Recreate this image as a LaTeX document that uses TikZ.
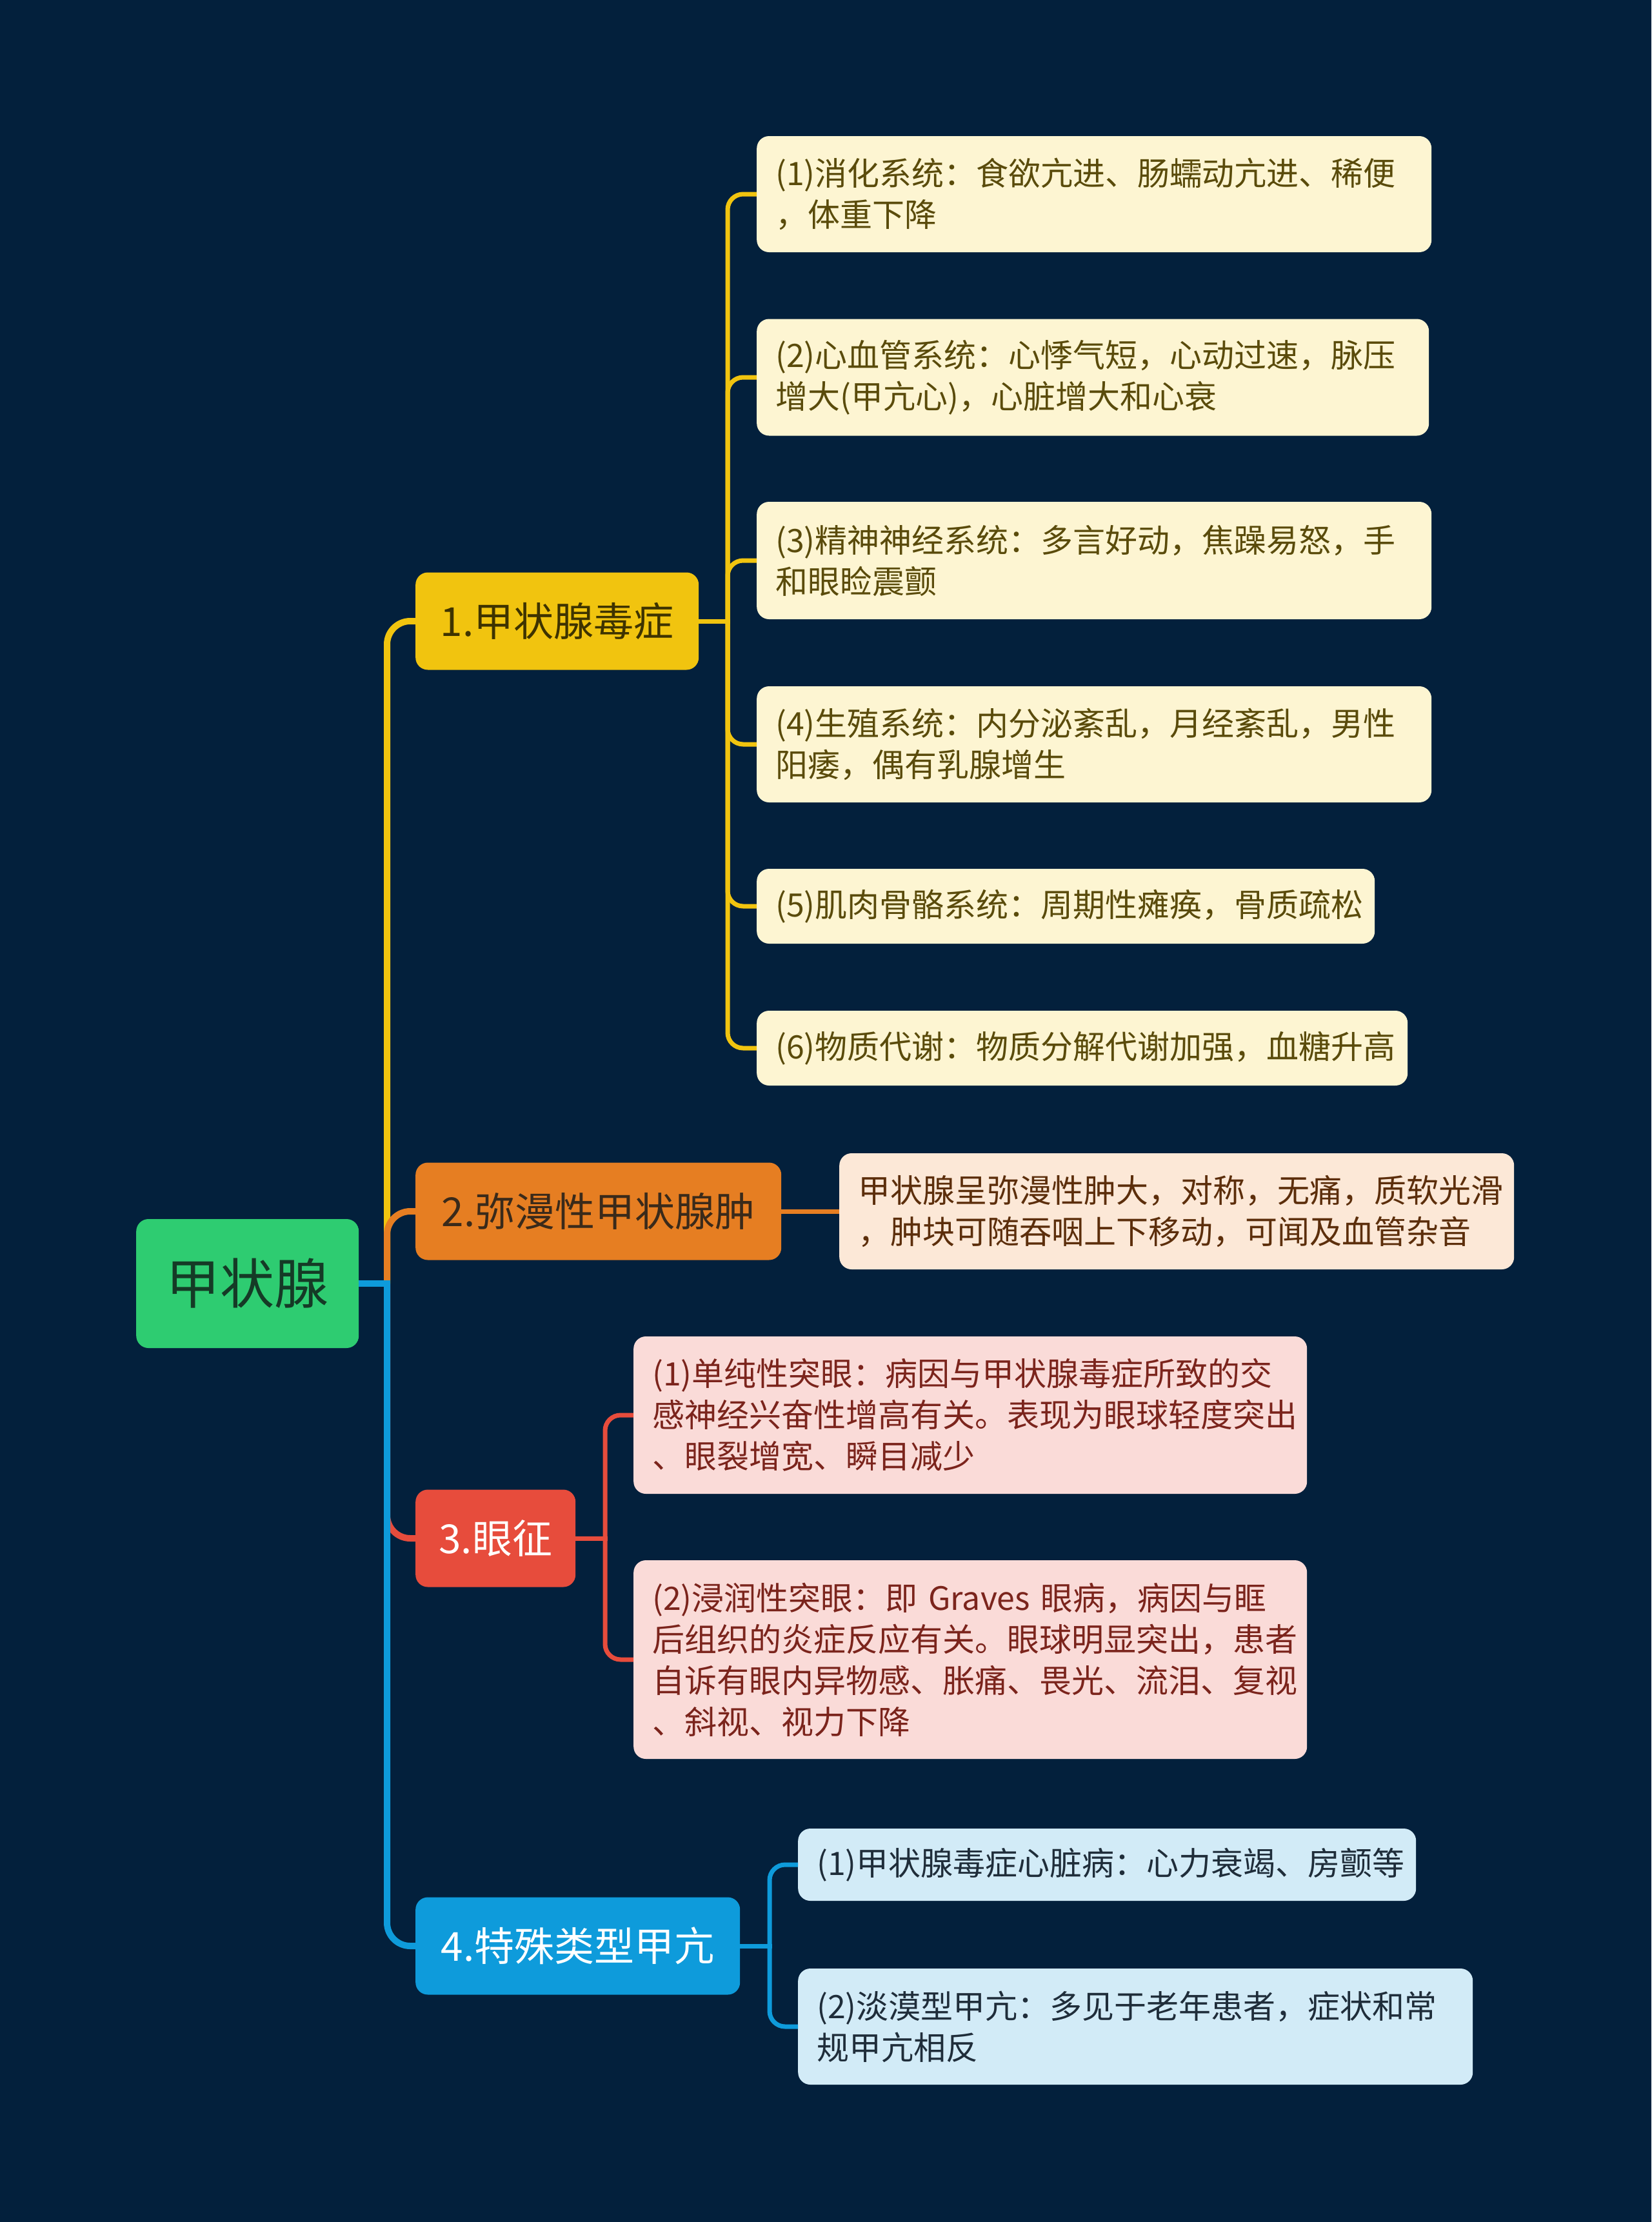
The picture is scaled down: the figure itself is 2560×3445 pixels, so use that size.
\documentclass[tikz,border=0pt]{standalone}
\usepackage{fontspec}
\setmainfont{Noto Sans CJK SC}
\definecolor{bg}{HTML}{03203C}
\definecolor{yellowM}{HTML}{F1C40F}
\definecolor{yellowL}{HTML}{FDF5D2}
\definecolor{yellowT}{HTML}{5A4B0B}
\definecolor{yellowD}{HTML}{3E3300}
\definecolor{orangeM}{HTML}{E67E22}
\definecolor{orangeL}{HTML}{FCE8D7}
\definecolor{orangeT}{HTML}{5C2E0B}
\definecolor{orangeD}{HTML}{3A2A1A}
\definecolor{redM}{HTML}{E74C3C}
\definecolor{redL}{HTML}{FADBD8}
\definecolor{redT}{HTML}{7B241C}
\definecolor{blueM}{HTML}{0E9BDB}
\definecolor{blueL}{HTML}{D2EBF7}
\definecolor{blueT}{HTML}{1F2D3A}
\definecolor{greenM}{HTML}{2ECC71}
\definecolor{greenT}{HTML}{153A26}
\begin{document}
\begin{tikzpicture}[x=1pt,y=-1pt,
  boxbase/.style={rounded corners=19pt, inner ysep=0pt},
  leaf/.style={boxbase, anchor=west, align=left, inner xsep=29pt,
    font=\fontsize{50}{64}\selectfont},
  mainnode/.style={boxbase, anchor=west, inner xsep=0pt,
    font=\fontsize{62}{70}\selectfont, minimum height=151pt},
  trunk/.style={line width=10pt, rounded corners=36pt},
  twig/.style={line width=7pt, rounded corners=24pt}]
\useasboundingbox (0,0) rectangle (2560,3445);
\fill[bg] (0,0) rectangle (2560,3445);

% root
\node[boxbase, anchor=west, fill=greenM, text=greenT, minimum width=345pt,
  minimum height=200pt, font=\fontsize{84}{90}\selectfont] (root) at (211,1990) {甲状腺};

% level 1
\node[mainnode, fill=yellowM, text=yellowD, minimum width=439pt] (n1) at (644,963) {1.甲状腺毒症};
\node[mainnode, fill=orangeM, text=orangeD, minimum width=567pt] (n2) at (644,1878) {2.弥漫性甲状腺肿};
\node[mainnode, fill=redM, text=white, minimum width=248pt] (n3) at (644,2385) {3.眼征};
\node[mainnode, fill=blueM, text=white, minimum width=503pt] (n4) at (644,3017) {4.特殊类型甲亢};

% yellow leaves
\node[leaf, fill=yellowL, text=yellowT, text width=988pt, minimum height=180pt] (a1) at (1173,301)
  {(1)消化系统：食欲亢进、肠蠕动亢进、稀便\\，体重下降};
\node[leaf, fill=yellowL, text=yellowT, text width=984pt, minimum height=181pt] (a2) at (1173,585)
  {(2)心血管系统：心悸气短，心动过速，脉压\\增大(甲亢心)，心脏增大和心衰};
\node[leaf, fill=yellowL, text=yellowT, text width=988pt, minimum height=182pt] (a3) at (1173,869)
  {(3)精神神经系统：多言好动，焦躁易怒，手\\和眼睑震颤};
\node[leaf, fill=yellowL, text=yellowT, text width=988pt, minimum height=180pt] (a4) at (1173,1154)
  {(4)生殖系统：内分泌紊乱，月经紊乱，男性\\阳痿，偶有乳腺增生};
\node[leaf, fill=yellowL, text=yellowT, text width=900pt, minimum height=116pt] (a5) at (1173,1405)
  {(5)肌肉骨骼系统：周期性瘫痪，骨质疏松};
\node[leaf, fill=yellowL, text=yellowT, text width=951pt, minimum height=116pt] (a6) at (1173,1625)
  {(6)物质代谢：物质分解代谢加强，血糖升高};

% orange leaf
\node[leaf, fill=orangeL, text=orangeT, text width=988pt, minimum height=180pt] (b1) at (1301,1878)
  {甲状腺呈弥漫性肿大，对称，无痛，质软光滑\\，肿块可随吞咽上下移动，可闻及血管杂音};

% red leaves
\node[leaf, fill=redL, text=redT, text width=986pt, minimum height=244pt] (c1) at (982,2194)
  {(1)单纯性突眼：病因与甲状腺毒症所致的交\\感神经兴奋性增高有关。表现为眼球轻度突出\\、眼裂增宽、瞬目减少};
\node[leaf, fill=redL, text=redT, text width=986pt, minimum height=308pt] (c2) at (982,2573)
  {(2)浸润性突眼：即 Graves 眼病，病因与眶\\后组织的炎症反应有关。眼球明显突出，患者\\自诉有眼内异物感、胀痛、畏光、流泪、复视\\、斜视、视力下降};

% blue leaves
\node[leaf, fill=blueL, text=blueT, text width=900pt, minimum height=112pt] (d1) at (1237,2891)
  {(1)甲状腺毒症心脏病：心力衰竭、房颤等};
\node[leaf, fill=blueL, text=blueT, text width=988pt, minimum height=180pt] (d2) at (1237,3142)
  {(2)淡漠型甲亢：多见于老年患者，症状和常\\规甲亢相反};

% connectors root -> level 1
\draw[trunk, yellowM] (600,1990) -- (600,963) -- (n1.west);
\draw[trunk, orangeM] (600,1990) -- (600,1878) -- (n2.west);
\draw[trunk, redM] (600,1990) -- (600,2385) -- (n3.west);
\draw[trunk, blueM] (600,1990) -- (600,3017) -- (n4.west);
\draw[line width=10pt, blueM] (root.east) -- (605,1990);

% yellow branch
\foreach \c/\yy in {a1/301,a2/585,a3/869,a4/1154,a5/1405,a6/1625}
  \draw[twig, yellowM] (1128,963) -- (1128,\yy) -- (\c.west);
\draw[line width=7pt, yellowM] (n1.east) -- (1131.5,963);
% orange branch
\draw[twig, orangeM] (n2.east) -- (b1.west);
% red branch
\foreach \c/\yy in {c1/2194,c2/2573}
  \draw[twig, redM] (938,2385) -- (938,\yy) -- (\c.west);
\draw[line width=7pt, redM] (n3.east) -- (941.5,2385);
% blue branch
\foreach \c/\yy in {d1/2891,d2/3142}
  \draw[twig, blueM] (1193,3017) -- (1193,\yy) -- (\c.west);
\draw[line width=7pt, blueM] (n4.east) -- (1196.5,3017);
\end{tikzpicture}
\end{document}
